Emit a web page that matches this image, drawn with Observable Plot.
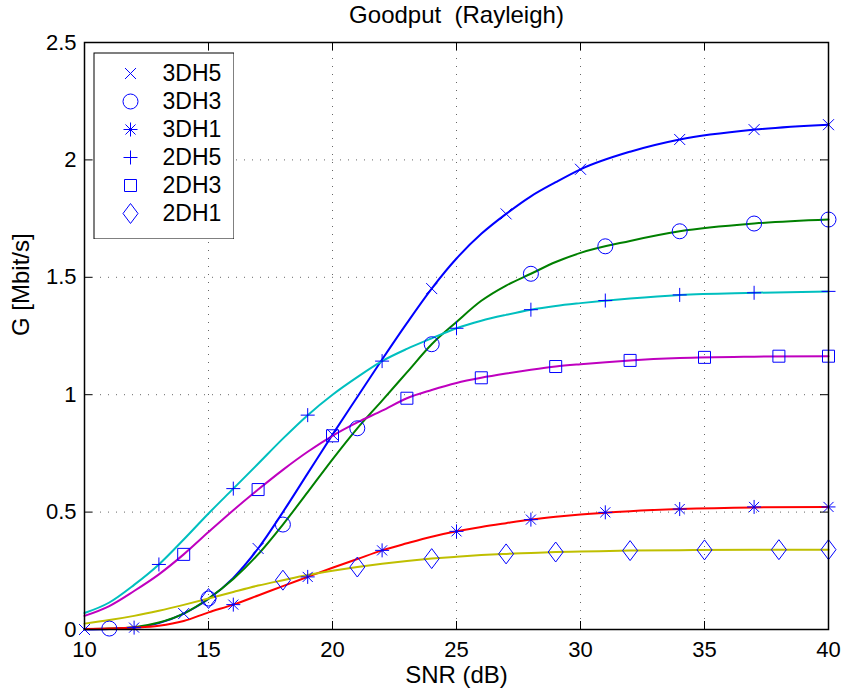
<!DOCTYPE html>
<html><head><meta charset="utf-8">
<script src="https://cdn.jsdelivr.net/npm/d3@7"></script>
<script src="https://cdn.jsdelivr.net/npm/@observablehq/plot@0.6"></script>
<style>
body{margin:0;background:#fff}
#wrap{position:relative;width:846px;height:697px;background:#fff}
svg text{white-space:pre}
</style>
</head><body><div id="wrap"></div>
<script>
// ---- ticks / labels ----
const snrTicks = [10, 15, 20, 25, 30, 35, 40];
const snrTickLabels = ["10", "15", "20", "25", "30", "35", "40"];
const gTicks = [0, 0.5, 1, 1.5, 2, 2.5];
const gTickLabels = ["0", "0.5", "1", "1.5", "2", "2.5"];
const seriesNames = ["3DH5", "3DH3", "3DH1", "2DH5", "2DH3", "2DH1"];
const titleText = "Goodput  (Rayleigh)";
const xLabel = "SNR (dB)";
const yLabel = "G [Mbit/s]";

// ---- marker points (SNR, G) ----
const snr3DH5 = [10, 14, 17, 20, 24, 27, 30, 34, 37, 40];
const g3DH5   = [0, 0.068, 0.345, 0.83, 1.452, 1.77, 1.96, 2.087, 2.129, 2.15];
const snr3DH3 = [11, 15, 18, 21, 24, 28, 31, 34, 37, 40];
const g3DH3   = [0.004, 0.132, 0.447, 0.857, 1.215, 1.515, 1.632, 1.696, 1.729, 1.746];
const snr3DH1 = [12, 16, 19, 22, 25, 28, 31, 34, 37, 40];
const g3DH1   = [0.008, 0.106, 0.224, 0.337, 0.418, 0.468, 0.499, 0.513, 0.522, 0.522];
const snr2DH5 = [13, 16, 19, 22, 25, 28, 31, 34, 37, 40];
const g2DH5   = [0.277, 0.6, 0.913, 1.143, 1.283, 1.362, 1.401, 1.425, 1.434, 1.44];
const snr2DH3 = [14, 17, 20, 23, 26, 29, 32, 35, 38, 40];
const g2DH3   = [0.32, 0.596, 0.825, 0.985, 1.072, 1.12, 1.146, 1.159, 1.164, 1.164];
const snr2DH1 = [15, 18, 21, 24, 27, 29, 32, 35, 38, 40];
const g2DH1   = [0.132, 0.21, 0.266, 0.302, 0.322, 0.33, 0.336, 0.339, 0.34, 0.34];

// ---- curve samples ----
const curveSNR = [10, 11, 12, 13, 14, 15, 16, 17, 18, 19, 20, 21, 22, 23, 24, 25, 26, 27, 28, 29, 30, 32, 34, 37, 40];
const curve3DH5 = [0, 0.002, 0.008, 0.027, 0.068, 0.13, 0.22, 0.345, 0.5, 0.665, 0.83, 0.99, 1.15, 1.305, 1.452, 1.58, 1.685, 1.77, 1.845, 1.905, 1.96, 2.035, 2.087, 2.129, 2.15];
const curve3DH3 = [0.002, 0.004, 0.01, 0.03, 0.068, 0.132, 0.215, 0.32, 0.447, 0.585, 0.725, 0.857, 0.975, 1.095, 1.215, 1.31, 1.4, 1.465, 1.515, 1.565, 1.604, 1.655, 1.696, 1.729, 1.746];
const curve3DH1 = [0.002, 0.004, 0.008, 0.016, 0.036, 0.073, 0.106, 0.145, 0.185, 0.224, 0.263, 0.3, 0.337, 0.367, 0.395, 0.418, 0.437, 0.453, 0.468, 0.48, 0.49, 0.504, 0.513, 0.52, 0.522];
const curve2DH5 = [0.07, 0.115, 0.19, 0.277, 0.383, 0.494, 0.6, 0.706, 0.813, 0.913, 1.0, 1.075, 1.143, 1.195, 1.24, 1.283, 1.315, 1.34, 1.362, 1.378, 1.39, 1.41, 1.425, 1.434, 1.44];
const curve2DH3 = [0.058, 0.1, 0.164, 0.235, 0.32, 0.415, 0.508, 0.596, 0.68, 0.757, 0.825, 0.882, 0.932, 0.985, 1.02, 1.05, 1.072, 1.09, 1.106, 1.12, 1.13, 1.146, 1.156, 1.162, 1.164];
const curve2DH1 = [0.025, 0.04, 0.058, 0.08, 0.105, 0.132, 0.16, 0.187, 0.21, 0.232, 0.25, 0.266, 0.28, 0.292, 0.302, 0.31, 0.317, 0.322, 0.326, 0.33, 0.332, 0.336, 0.338, 0.34, 0.34];

// ---- styles ----
const lineColors = ["#0000ff", "#008000", "#ff0000", "#00bfbf", "#bf00bf", "#bfbf00"];
const markerColor = "#0000ff";
const FONT = "'Liberation Sans', Arial, Helvetica, sans-serif";

function sym(fn) { return {draw(c, size) { fn(c, Math.sqrt(size / Math.PI)); }}; }
const symTimes = sym((c, r) => { c.moveTo(-r, -r); c.lineTo(r, r); c.moveTo(-r, r); c.lineTo(r, -r); });
const symCircle = sym((c, r) => { c.moveTo(r, 0); c.arc(0, 0, r, 0, 2 * Math.PI); });
const symStar = sym((c, r) => { const d = r * 0.72;
  c.moveTo(0, -r); c.lineTo(0, r); c.moveTo(-r, 0); c.lineTo(r, 0);
  c.moveTo(-d, -d); c.lineTo(d, d); c.moveTo(-d, d); c.lineTo(d, -d); });
const symPlus = sym((c, r) => { c.moveTo(0, -r); c.lineTo(0, r); c.moveTo(-r, 0); c.lineTo(r, 0); });
const symSquare = sym((c, r) => { c.moveTo(-r, -r); c.lineTo(r, -r); c.lineTo(r, r); c.lineTo(-r, r); c.closePath(); });
const symDiamond = sym((c, r) => { const h = r * 1.33; c.moveTo(0, -h); c.lineTo(r, 0); c.lineTo(0, h); c.lineTo(-r, 0); c.closePath(); });
const symbols = [symTimes, symCircle, symStar, symPlus, symSquare, symDiamond];
const symR = [5.5, 7.5, 7, 7, 6, 7.5];

const markerSNR = [snr3DH5, snr3DH3, snr3DH1, snr2DH5, snr2DH3, snr2DH1];
const markerG = [g3DH5, g3DH3, g3DH1, g2DH5, g2DH3, g2DH1];
const curves = [curve3DH5, curve3DH3, curve3DH1, curve2DH5, curve2DH3, curve2DH1];

const W = 846, H = 697, mL = 84, mR = 18, mT = 42, mB = 68;
const frameW = W - mL - mR, frameH = H - mT - mB, TICK = 8;

const marks = [
  Plot.gridX(snrTicks.slice(1, -1), {stroke: "#000", strokeOpacity: 0.6, strokeDasharray: "1,7"}),
  Plot.gridY(gTicks.slice(1, -1), {stroke: "#000", strokeOpacity: 0.6, strokeDasharray: "1,7"})
];
seriesNames.forEach((name, k) => {
  marks.push(Plot.line(curveSNR.map((x, i) => ({x, y: curves[k][i]})),
    {x: "x", y: "y", stroke: lineColors[k], strokeWidth: 2, curve: "monotone-x"}));
});
seriesNames.forEach((name, k) => {
  marks.push(Plot.dot(markerSNR[k].map((x, i) => ({x, y: markerG[k][i]})),
    {x: "x", y: "y", symbol: symbols[k], r: symR[k], stroke: markerColor, fill: "none", strokeWidth: 1}));
});
marks.push(
  Plot.ruleX(snrTicks, {insetTop: frameH - TICK, stroke: "#000"}),
  Plot.ruleX(snrTicks, {insetBottom: frameH - TICK, stroke: "#000"}),
  Plot.ruleY(gTicks, {insetRight: frameW - TICK, stroke: "#000"}),
  Plot.ruleY(gTicks, {insetLeft: frameW - TICK, stroke: "#000"}),
  Plot.frame({stroke: "#000", strokeWidth: 1.5}),
  Plot.axisX(snrTicks, {tickSize: 0, tickPadding: 12, fontSize: 22, label: null,
    tickFormat: d => snrTickLabels[snrTicks.indexOf(d)]}),
  Plot.axisY(gTicks, {tickSize: 0, tickPadding: 8, fontSize: 22, label: null,
    tickFormat: d => gTickLabels[gTicks.indexOf(d)]}),
  Plot.text([titleText], {text: d => d, frameAnchor: "top", dy: -27, fontSize: 24, lineAnchor: "middle"}),
  Plot.text([xLabel], {text: d => d, frameAnchor: "bottom", dy: 46, fontSize: 24, lineAnchor: "middle"}),
  Plot.text([yLabel], {text: d => d, frameAnchor: "left", dx: -63, rotate: -90, fontSize: 24, lineAnchor: "middle"})
);

const chart = Plot.plot({
  width: W, height: H,
  marginLeft: mL, marginRight: mR, marginTop: mT, marginBottom: mB,
  style: {fontFamily: FONT, fontSize: "22px", color: "#000", background: "#fff", overflow: "visible"},
  x: {domain: [10, 40]},
  y: {domain: [0, 2.5]},
  marks
});
document.getElementById("wrap").appendChild(chart);

// ---- legend (markers only, as in the reference) ----
const legendMarks = [Plot.frame({stroke: "#000", strokeWidth: 1, fill: "#fff", inset: 0.5})];
seriesNames.forEach((name, k) => {
  legendMarks.push(Plot.dot([name], {y: d => d, frameAnchor: "left", dx: 37,
    symbol: symbols[k], r: symR[k], stroke: markerColor, fill: "none", strokeWidth: 1}));
});
legendMarks.push(Plot.text(seriesNames, {y: d => d, text: d => d, frameAnchor: "left", dx: 69,
  textAnchor: "start", fontSize: 23}));
const legend = Plot.plot({
  width: 141, height: 187, margin: 0,
  style: {fontFamily: FONT, fontSize: "23px", color: "#000", background: "transparent"},
  y: {type: "point", padding: 0, domain: seriesNames, range: [19.7, 163], axis: null},
  marks: legendMarks
});
legend.style.position = "absolute";
legend.style.left = "93px";
legend.style.top = "52px";
document.getElementById("wrap").appendChild(legend);
</script>
</body></html>
